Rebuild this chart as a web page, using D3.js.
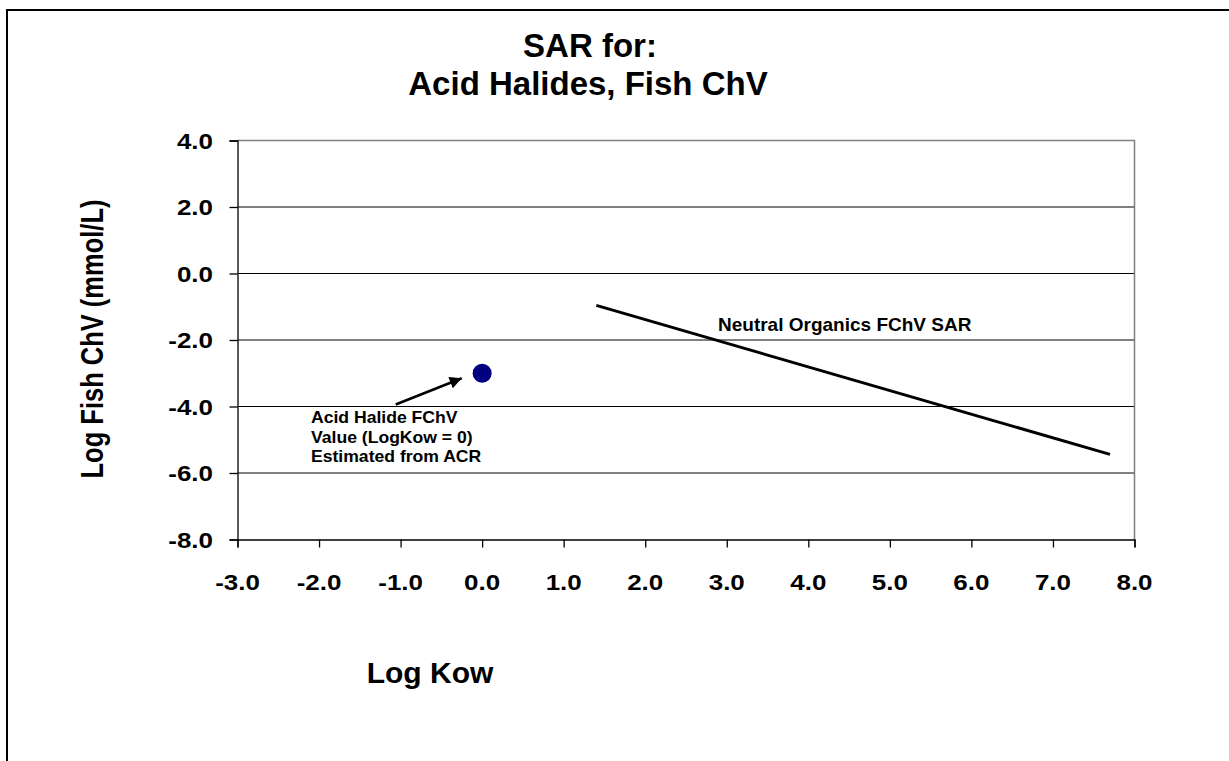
<!DOCTYPE html>
<html>
<head>
<meta charset="utf-8">
<script src="https://cdn.jsdelivr.net/npm/d3@7"></script>
<style>
  body { margin: 0; background: #fff; }
  text { font-family: Arial, "Liberation Sans", sans-serif; font-weight: bold; fill: #000; }
</style>
</head>
<body>
<div id="chart"></div>
<script>
// data
var xTicks = [-3, -2, -1, 0, 1, 2, 3, 4, 5, 6, 7, 8];
var yTicks = [-8, -6, -4, -2, 0, 2, 4];
var acidLogKow = [0];
var acidLogChV = [-3];
var sarLogKow = [1.4, 7.7];
var sarLogChV = [-0.96, -5.44];
var noteLines = ['Acid Halide FChV', 'Value (LogKow = 0)', 'Estimated from ACR'];

var chart_width = 1229
var chart_height = 761

var svg = d3.select('#chart')
    .append('svg')
    .attr('width', chart_width)
    .attr('height', chart_height);

// outer frame (runs off the right and bottom)
svg.append('rect')
    .attr('x', 7).attr('y', 10)
    .attr('width', 1240).attr('height', 780)
    .attr('fill', 'none')
    .attr('stroke', '#000')
    .attr('stroke-width', 2);

var x = d3.scaleLinear().domain([-3, 8]).range([237.5, 1134.5]);
var y = d3.scaleLinear().domain([-8, 4]).range([539.5, 140.5]);

// gridlines
svg.selectAll('.grid')
    .data(yTicks.filter(function(d){ return d > -8 && d < 4; }))
    .enter()
    .append('line')
    .attr('x1', x(-3)).attr('x2', x(8))
    .attr('y1', function(d){ return y(d); })
    .attr('y2', function(d){ return y(d); })
    .attr('stroke', '#000')
    .attr('stroke-width', 1);

// plot area top & right edge
svg.append('path')
    .attr('d', 'M' + x(-3) + ',' + y(4) + 'H' + x(8) + 'V' + y(-8))
    .attr('fill', 'none')
    .attr('stroke', '#808080')
    .attr('stroke-width', 1.5);

// axes
var xAxis = d3.axisBottom(x).tickValues(xTicks).tickSize(8).tickFormat('');
var yAxis = d3.axisLeft(y).tickValues(yTicks).tickSize(8).tickFormat('');

svg.append('g')
    .attr('transform', 'translate(0,' + y(-8) + ')')
    .call(xAxis)
    .call(function(g){ g.selectAll('path,line').attr('stroke', '#000').attr('stroke-width', 1.3); });

svg.append('g')
    .attr('transform', 'translate(' + x(-3) + ',0)')
    .call(yAxis)
    .call(function(g){ g.selectAll('path,line').attr('stroke', '#000').attr('stroke-width', 1.3); });

// tick labels (a bit wider than plain Arial in the original)
var fmt = function(d){ return d3.format('.1f')(d).replace('\u2212', '-'); };

svg.selectAll('.xlab')
    .data(xTicks)
    .enter()
    .append('text')
    .attr('transform', function(d){ return 'translate(' + x(d) + ',590) scale(1.18,1)'; })
    .attr('text-anchor', 'middle')
    .attr('font-size', 22)
    .text(fmt);

svg.selectAll('.ylab')
    .data(yTicks)
    .enter()
    .append('text')
    .attr('transform', function(d){ return 'translate(213,' + (y(d) + 8) + ') scale(1.18,1)'; })
    .attr('text-anchor', 'end')
    .attr('font-size', 22)
    .text(fmt);

// title
svg.append('text')
    .attr('x', 590).attr('y', 57)
    .attr('text-anchor', 'middle')
    .attr('font-size', 33)
    .text('SAR for:');
svg.append('text')
    .attr('x', 588).attr('y', 95)
    .attr('text-anchor', 'middle')
    .attr('font-size', 33)
    .text('Acid Halides, Fish ChV');

// axis titles
svg.append('text')
    .attr('transform', 'translate(103,339) rotate(-90) scale(1,1.22)')
    .attr('text-anchor', 'middle')
    .attr('font-size', 25.5)
    .text('Log Fish ChV (mmol/L)');

svg.append('text')
    .attr('x', 430).attr('y', 683)
    .attr('text-anchor', 'middle')
    .attr('font-size', 30)
    .text('Log Kow');

// neutral organics SAR line
var line = d3.line()
    .x(function(d){ return x(d[0]); })
    .y(function(d){ return y(d[1]); });

svg.append('path')
    .datum(d3.zip(sarLogKow, sarLogChV))
    .attr('d', line)
    .attr('fill', 'none')
    .attr('stroke', '#000')
    .attr('stroke-width', 3);

svg.append('text')
    .attr('x', 718).attr('y', 331)
    .attr('font-size', 19)
    .text('Neutral Organics FChV SAR');

// acid halide point
svg.selectAll('.pt')
    .data(d3.zip(acidLogKow, acidLogChV))
    .enter()
    .append('circle')
    .attr('cx', function(d){ return x(d[0]); })
    .attr('cy', function(d){ return y(d[1]); })
    .attr('r', 9.5)
    .attr('fill', '#000080');

// arrow to the point
svg.append('defs').append('marker')
    .attr('id', 'head')
    .attr('viewBox', '0 0 10 10')
    .attr('refX', 10).attr('refY', 5)
    .attr('markerUnits', 'userSpaceOnUse')
    .attr('markerWidth', 17).attr('markerHeight', 12)
    .attr('orient', 'auto')
    .append('path')
    .attr('d', 'M0,0L10,5L0,10Z')
    .attr('fill', '#000');

svg.append('line')
    .attr('x1', x(-1.06)).attr('y1', y(-3.94))
    .attr('x2', x(-0.25)).attr('y2', y(-3.15))
    .attr('stroke', '#000')
    .attr('stroke-width', 2.5)
    .attr('marker-end', 'url(#head)');

svg.selectAll('.note')
    .data(noteLines)
    .enter()
    .append('text')
    .attr('transform', function(d, i){ return 'translate(311,' + (423 + i * 19.5) + ') scale(1.1,1)'; })
    .attr('font-size', 16)
    .text(function(d){ return d; });
</script>
</body>
</html>
